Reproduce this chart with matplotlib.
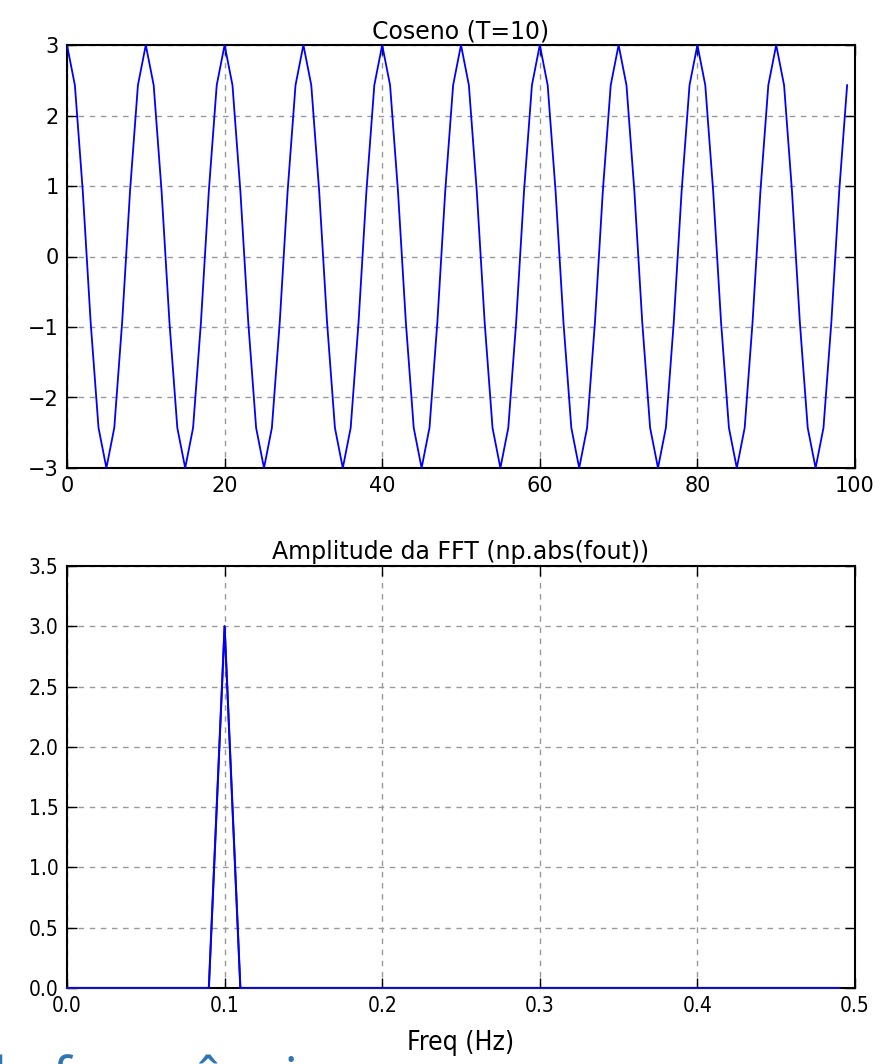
import matplotlib
matplotlib.use("Agg")
import matplotlib.pyplot as plt

# ---- data ----
t_samples = list(range(100))
cos_values = [
    3.00, 2.43, 0.93, -0.93, -2.43, -3.00, -2.43, -0.93, 0.93, 2.43,
    3.00, 2.43, 0.93, -0.93, -2.43, -3.00, -2.43, -0.93, 0.93, 2.43,
    3.00, 2.43, 0.93, -0.93, -2.43, -3.00, -2.43, -0.93, 0.93, 2.43,
    3.00, 2.43, 0.93, -0.93, -2.43, -3.00, -2.43, -0.93, 0.93, 2.43,
    3.00, 2.43, 0.93, -0.93, -2.43, -3.00, -2.43, -0.93, 0.93, 2.43,
    3.00, 2.43, 0.93, -0.93, -2.43, -3.00, -2.43, -0.93, 0.93, 2.43,
    3.00, 2.43, 0.93, -0.93, -2.43, -3.00, -2.43, -0.93, 0.93, 2.43,
    3.00, 2.43, 0.93, -0.93, -2.43, -3.00, -2.43, -0.93, 0.93, 2.43,
    3.00, 2.43, 0.93, -0.93, -2.43, -3.00, -2.43, -0.93, 0.93, 2.43,
    3.00, 2.43, 0.93, -0.93, -2.43, -3.00, -2.43, -0.93, 0.93, 2.43,
]
freqs = [i / 100 for i in range(50)]
fft_amp = [
    0, 0, 0, 0, 0, 0, 0, 0, 0, 0,
    3.0, 0, 0, 0, 0, 0, 0, 0, 0, 0,
    0, 0, 0, 0, 0, 0, 0, 0, 0, 0,
    0, 0, 0, 0, 0, 0, 0, 0, 0, 0,
    0, 0, 0, 0, 0, 0, 0, 0, 0, 0,
]
top_xticks = [0, 20, 40, 60, 80, 100]
top_yticks = [-3, -2, -1, 0, 1, 2, 3]
bot_xticks = [0.0, 0.1, 0.2, 0.3, 0.4, 0.5]
bot_yticks = [0.0, 0.5, 1.0, 1.5, 2.0, 2.5, 3.0, 3.5]

plt.rcParams['font.family'] = ['DejaVu Sans']
W, H = 890, 1064
fig = plt.figure(figsize=(W / 100, H / 100), dpi=100, facecolor='white')

def axrect(x0, y0, x1, y1):
    return [x0 / W, 1 - y1 / H, (x1 - x0) / W, (y1 - y0) / H]

ax1 = fig.add_axes(axrect(67, 45, 855, 468))
ax2 = fig.add_axes(axrect(67, 566, 855, 988))

for ax in (ax1, ax2):
    ax.set_facecolor('white')
    for s in ax.spines.values():
        s.set_linewidth(1.5)
        s.set_color('black')
    ax.tick_params(direction='in', length=7, width=1, top=True, right=True,
                   labelsize=15, colors='black', pad=6)
    ax.grid(True, color='#999999', linestyle=(0, (4, 4)), linewidth=1.0)
    ax.set_axisbelow(True)

ax1.plot(t_samples, cos_values, color='#0000ff', linewidth=1.3, zorder=3)
ax1.set_xlim(0, 100)
ax1.set_ylim(-3, 3)
ax1.set_xticks(top_xticks)
ax1.set_yticks(top_yticks)
ax1.set_yticklabels(['\u22123', '\u22122', '\u22121', '0', '1', '2', '3'])
ax1.set_title('Coseno (T=10)', fontsize=17, pad=5)

ax2.plot(freqs, fft_amp, color='#1a1aa0', linewidth=1.5, zorder=3, clip_on=False)
ax2.plot(freqs, fft_amp, color='#0000ff', linewidth=1.3, zorder=3)
ax2.set_xlim(0, 0.5)
ax2.set_ylim(0, 3.5)
ax2.set_xticks(bot_xticks)
ax2.set_yticks(bot_yticks)
ax2.set_xticklabels([f'{v:.1f}' for v in bot_xticks], fontstretch='condensed')
ax2.set_yticklabels([f'{v:.1f}' for v in bot_yticks], fontstretch='condensed')
ax2.set_title('Amplitude da FFT (np.abs(fout))', fontsize=17, pad=5)
ax2.set_xlabel('Freq (Hz)', fontsize=19, labelpad=10, fontstretch='condensed')

fig.text(-0.03, -0.032, 'da frequência', fontsize=40, color='#2E75B6',
         family=['Open Sans', 'DejaVu Sans'], ha='left', va='baseline')

fig.savefig('out.png', dpi=100, facecolor='white')
